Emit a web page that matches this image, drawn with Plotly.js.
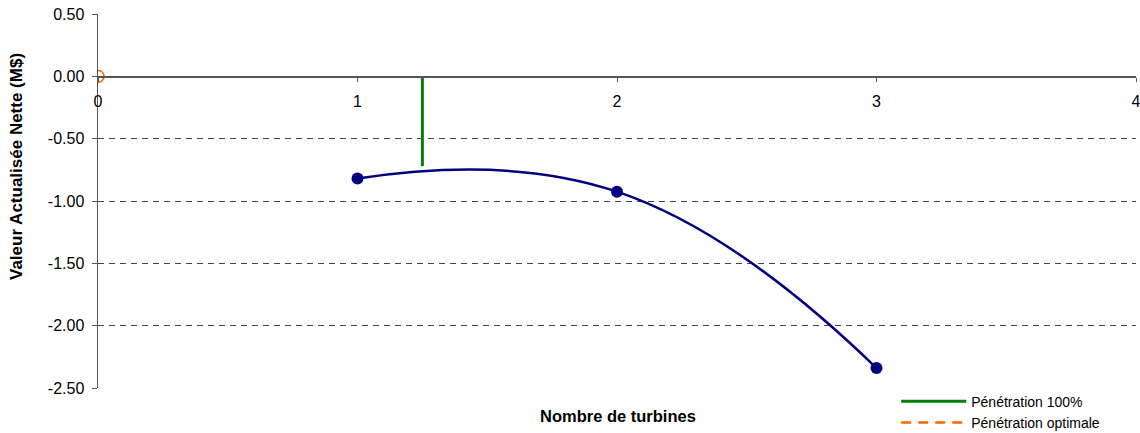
<!DOCTYPE html>
<html>
<head>
<meta charset="utf-8">
<script src="https://cdn.plot.ly/plotly-3.0.1.min.js"></script>
<style>html,body{margin:0;padding:0;background:#fff;}#chart{width:1140px;height:433px;}</style>
</head>
<body>
<div id="chart"></div>
<script>
// Data
const turbines = [1, 2, 3];
const van = [-0.82, -0.925, -2.34];
const pen100X = [1.25, 1.25];
const pen100Y = [0, -0.72];
const penOptX = [0, 0];
const penOptY = [0, 0];
const xTicks = [0, 1, 2, 3, 4];
const yTicks = [0.5, 0, -0.5, -1, -1.5, -2, -2.5];

const yMin = -2.5, yMax = 0.5;
const zeroPos = (0 - yMin) / (yMax - yMin);
const FONT = 'Liberation Sans, Arial, sans-serif';

const traces = [
  {x: turbines, y: van, mode: 'lines+markers', line: {color: '#000080', width: 2.5, shape: 'spline', smoothing: 1.3},
   marker: {color: '#000080', size: 12}, showlegend: false, hoverinfo: 'skip'},
  {x: pen100X, y: pen100Y, mode: 'lines', line: {color: '#008000', width: 3}, name: 'Pénétration 100%'},
  {x: penOptX, y: penOptY, mode: 'lines', line: {color: '#FF6600', width: 2.5, dash: '10px,7px'}, name: 'Pénétration optimale'},
  {x: penOptX, y: penOptY, mode: 'markers', marker: {symbol: 'circle-open', color: '#FF6600', size: 12, line: {width: 1.2}}, showlegend: false}
];

const layout = {
  width: 1140, height: 433,
  margin: {l: 98, r: 4, t: 14, b: 45, autoexpand: false},
  paper_bgcolor: '#fff', plot_bgcolor: '#fff',
  font: {family: FONT, size: 16, color: '#000'},
  xaxis: {
    range: [0, 4], tickvals: xTicks, ticktext: xTicks.map(String),
    anchor: 'free', position: zeroPos,
    showline: true, linecolor: '#555', linewidth: 1.5,
    ticks: 'outside', ticklen: 4, tickcolor: '#555', ticklabelstandoff: 6,
    ticklabeloverflow: 'allow',
    showgrid: false, zeroline: false, fixedrange: true
  },
  yaxis: {
    range: [yMin, yMax], tickvals: yTicks, ticktext: yTicks.map(v => v.toFixed(2)),
    showline: true, linecolor: '#555', linewidth: 1.5,
    ticks: 'outside', ticklen: 5, tickcolor: '#555', ticklabelstandoff: 4,
    showgrid: true, gridcolor: '#444', gridwidth: 1, griddash: '6px,5px',
    zeroline: false, fixedrange: true
  },
  annotations: [
    {text: '<b>Nombre de turbines</b>', xref: 'paper', yref: 'paper', x: 0.5005, y: -0.075, xanchor: 'center', yanchor: 'middle', showarrow: false, font: {size: 16.5}},
    {text: '<b>Valeur Actualisée Nette (M$)</b>', xref: 'paper', yref: 'paper', x: -0.078, y: 0.591, xanchor: 'center', yanchor: 'middle', textangle: -90, showarrow: false, font: {size: 17}}
  ],
  legend: {
    x: 0.769, y: 0.006, xanchor: 'left', yanchor: 'top',
    font: {size: 14}, bgcolor: 'rgba(0,0,0,0)', itemwidth: 65,
    tracegroupgap: 0
  },
  showlegend: true
};

Plotly.newPlot('chart', traces, layout, {displayModeBar: false, staticPlot: true});
</script>
</body>
</html>
